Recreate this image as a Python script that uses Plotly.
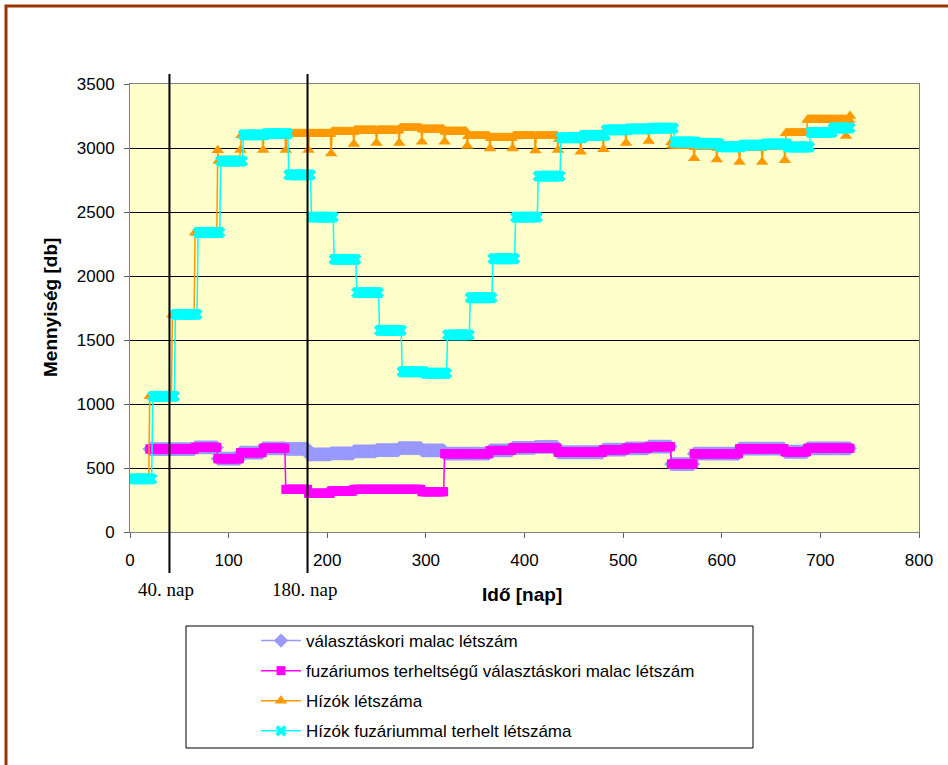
import numpy as np
import plotly.graph_objects as go

LAST_DAY = 730

# Választáskori malacok: first day of each period and the head count held over it
malac_start = [20, 43, 66, 89, 112, 135, 158, 181, 204, 227, 250, 273, 296, 319, 342, 365,
               388, 411, 434, 457, 480, 503, 526, 549, 572, 595, 618, 641, 664, 687, 710]
malac_db = [648, 648, 661, 573, 620, 654, 650, 607, 615, 630, 640, 655, 638, 612, 612, 637,
            658, 665, 623, 623, 643, 654, 667, 531, 612, 612, 651, 651, 627, 654, 654]
fuz_malac_db = [648, 648, 661, 573, 620, 654, 333, 302, 320, 333, 333, 333, 315, 612, 612, 637,
                658, 655, 623, 623, 643, 654, 667, 531, 612, 612, 651, 651, 627, 654, 654]

# Hízók létszáma (single-day values mark the batch changeovers)
hizo_start = [1, 20, 43, 66, 89, 90, 112, 113, 135, 136, 158, 159, 181, 182, 204, 205,
              227, 228, 250, 251, 273, 274, 296, 297, 319, 320, 342, 343, 365, 366,
              388, 389, 411, 412, 434, 435, 457, 458, 480, 481, 503, 504, 526, 527,
              549, 550, 572, 573, 595, 596, 618, 619, 641, 642, 664, 665, 687, 726, 727, 730]
hizo_db = [415, 1060, 1700, 2340, 2982, 2900, 2984, 3100, 2984, 3108, 2984, 3109, 2984, 3109,
           2958, 3125, 3031, 3137, 3039, 3137, 3039, 3154, 3049, 3145, 3049, 3127, 3015, 3091,
           2997, 3078, 2997, 3091, 2980, 3091, 2985, 3070, 2970, 3085, 2990, 3125, 3040, 3140,
           3055, 3145, 3045, 3020, 2920, 3005, 2910, 3000, 2890, 3000, 2890, 3005, 2905, 3115,
           3220, 3094, 3220, 3250]

# Hízók fuzáriummal terhelt létszáma, one value per 23-day batch
fuz_hizo_start = [1, 23, 46, 69, 92, 115, 138, 161, 184, 207, 230, 253, 276, 299, 322, 345,
                  368, 391, 414, 437, 460, 483, 506, 529, 552, 575, 598, 621, 644, 667, 690, 713]
fuz_hizo_db = [415, 1060, 1700, 2340, 2898, 3102, 3112, 2790, 2460, 2130, 1870, 1575, 1252, 1240,
               1540, 1830, 2135, 2460, 2780, 3080, 3099, 3141, 3150, 3155, 3047, 3035, 3010, 3023,
               3031, 3008, 3122, 3156]

series_names = ["választáskori malac létszám",
                "fuzáriumos terheltségű választáskori malac létszám",
                "Hízók létszáma",
                "Hízók fuzáriummal terhelt létszáma"]

x_ticks = [0, 100, 200, 300, 400, 500, 600, 700, 800]
y_ticks = [0, 500, 1000, 1500, 2000, 2500, 3000, 3500]
marker_days = [40, 180]
marker_labels = ["40. nap", "180. nap"]


def daily(starts, values):
    """Hold each value from its start day until the next change (daily records)."""
    days = np.arange(starts[0], LAST_DAY + 1)
    idx = np.searchsorted(starts, days, side="right") - 1
    return days, np.asarray(values)[idx]


SANS = "Liberation Sans, Arial, sans-serif"
SERIF = "Liberation Serif, Times New Roman, serif"

styles = [
    dict(color="#9999FF", symbol="diamond", size=11),
    dict(color="#FF00FF", symbol="square", size=9),
    dict(color="#FF9900", symbol="triangle-up", size=11),
    dict(color="#00FFFF", symbol="x", size=10),
]
data = [
    daily(malac_start, malac_db),
    daily(malac_start, fuz_malac_db),
    daily(hizo_start, hizo_db),
    daily(fuz_hizo_start, fuz_hizo_db),
]

fig = go.Figure()
for name, (xs, ys), st in zip(series_names, data, styles):
    fig.add_trace(go.Scatter(
        x=xs, y=ys, name=name, mode="lines+markers", legendgroup=name,
        line=dict(color=st["color"], width=1.5),
        marker=dict(color=st["color"], symbol=st["symbol"], size=st["size"]),
    ))

# pixel layout helpers
L, R, T, B = 130, 29, 84, 233
W, H = 948, 765
pw, ph = W - L - R, H - T - B


def px_x(p):
    return (p - L) / pw


def px_y(p):
    return (H - B - p) / ph


shapes = [
    # outer frame
    dict(type="rect", xref="paper", yref="paper", x0=px_x(6), x1=px_x(W + 40),
         y0=px_y(H + 40), y1=px_y(6), line=dict(color="#993300", width=3), layer="below"),
    # legend box
    dict(type="rect", xref="paper", yref="paper", x0=px_x(186), x1=px_x(753),
         y0=px_y(748), y1=px_y(626), line=dict(color="#000000", width=1),
         fillcolor="white", layer="below"),
]
for d in marker_days:
    shapes.append(dict(type="line", xref="x", yref="paper", x0=d, x1=d,
                       y0=px_y(573), y1=px_y(74), line=dict(color="black", width=2)))

annotations = [
    dict(text="<b>Mennyiség [db]</b>", xref="paper", yref="paper", x=px_x(50), y=0.5,
         xanchor="center", yanchor="middle", textangle=-90, showarrow=False,
         font=dict(family=SANS, size=19, color="black")),
    dict(text="<b>Idő [nap]</b>", xref="paper", yref="paper", x=px_x(522), y=px_y(594),
         xanchor="center", yanchor="middle", showarrow=False,
         font=dict(family=SANS, size=19, color="black")),
]
for d, lab in zip(marker_days, marker_labels):
    annotations.append(dict(text=lab, xref="x", yref="paper", x=d, y=px_y(589), xshift=-3,
                            xanchor="center", yanchor="middle", showarrow=False,
                            font=dict(family=SERIF, size=19, color="black")))

fig.update_layout(
    width=W, height=H,
    margin=dict(l=L, r=R, t=T, b=B, autoexpand=False),
    paper_bgcolor="white", plot_bgcolor="#FFFFCC",
    font=dict(family=SANS, size=17, color="black"),
    showlegend=True,
    legend=dict(x=px_x(256), y=px_y(623), xanchor="left", yanchor="top",
                bgcolor="rgba(0,0,0,0)", borderwidth=0, itemwidth=40,
                tracegroupgap=5, font=dict(family=SANS, size=17, color="black")),
    shapes=shapes,
    annotations=annotations,
)
fig.update_xaxes(range=[0, 800], tickvals=x_ticks, showgrid=False, zeroline=False,
                 showline=True, linecolor="#808080", linewidth=1, mirror=True,
                 ticks="outside", ticklen=5, tickcolor="#606060", ticklabelstandoff=8,
                 tickfont=dict(family=SANS, size=17, color="black"))
fig.update_yaxes(range=[0, 3500], tickvals=y_ticks, showgrid=True, gridcolor="black",
                 gridwidth=1, zeroline=False, showline=True, linecolor="#808080",
                 linewidth=1, mirror=True, ticks="outside", ticklen=5, tickcolor="#606060",
                 ticklabelstandoff=6, tickfont=dict(family=SANS, size=17, color="black"))

fig.write_html("out.html")
